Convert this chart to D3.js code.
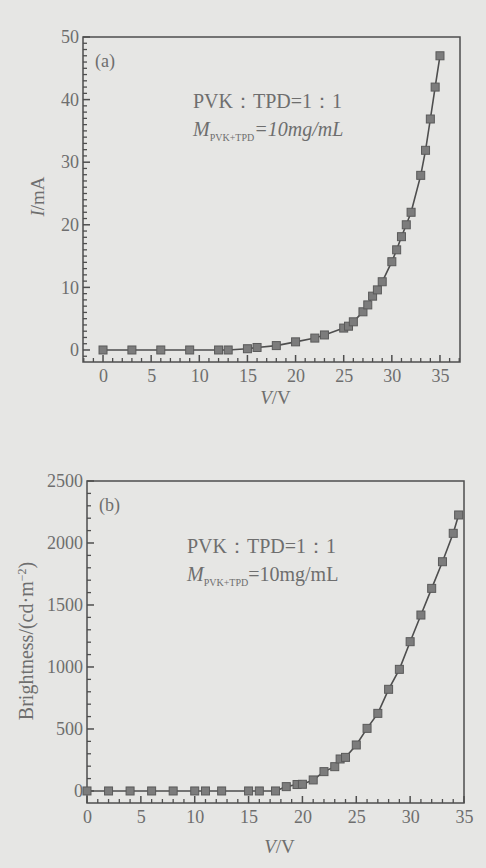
<!DOCTYPE html>
<html>
<head>
<meta charset="utf-8">
<script src="https://cdn.jsdelivr.net/npm/d3@7"></script>
<style>
  body { margin: 0; background: #e6e6e4; }
  svg { display: block; }
  text { font-family: "Liberation Serif", "DejaVu Serif", serif; fill: #6e6e6e; }
</style>
</head>
<body>
<div class="chart"></div>
<script>
// panel (a): current vs voltage
const voltA = [0, 3, 6, 9, 12, 13, 15, 16, 18, 20, 22, 23, 25, 25.5, 26, 27, 27.5, 28, 28.5, 29,
  30, 30.5, 31, 31.5, 32, 33, 33.5, 34, 34.5, 35];
const currentA = [0, 0, 0, 0, 0, 0, 0.2, 0.4, 0.7, 1.3, 1.9, 2.4, 3.5, 3.8, 4.5, 6.1, 7.2, 8.6, 9.6, 10.9,
  14.1, 16, 18.1, 20, 22, 27.9, 31.9, 36.9, 42, 47];
const yTicksA = [0, 10, 20, 30, 40, 50];

// panel (b): brightness vs voltage
const voltB = [0, 2, 4, 6, 8, 10, 11, 12.5, 15, 16, 17.5, 18.5, 19.5, 20, 21, 22, 23, 23.5, 24, 25,
  26, 27, 28, 29, 30, 31, 32, 33, 34, 34.5];
const brightB = [0, 0, 0, 0, 0, 0, 0, 0, 0, 0, 0, 35, 52, 54, 89, 156, 196, 258, 271, 371,
  505, 626, 820, 981, 1204, 1419, 1634, 1849, 2078, 2226];
const yTicksB = [0, 500, 1000, 1500, 2000, 2500];

const xTicks = [0, 5, 10, 15, 20, 25, 30, 35];

const width = 486, height = 868;
const ink = "#4e4e4e", markFill = "#7c7c7c";

const svg = d3.select(".chart").append("svg")
  .attr("width", width).attr("height", height);

function panel(opt) {
  const x = d3.scaleLinear().domain(opt.xDomain).range([opt.left, opt.right]);
  const y = d3.scaleLinear().domain(opt.yDomain).range([opt.bottom, opt.top]);
  const g = svg.append("g");

  // minor ticks, pointing inward
  const xMinor = d3.range(Math.ceil(opt.xDomain[0]), opt.xDomain[1] + 0.001, 1).filter(v => v % 5 !== 0);
  const yMinor = d3.range(Math.ceil(opt.yDomain[0] / opt.yMinorStep) * opt.yMinorStep, opt.yDomain[1] + 0.001, opt.yMinorStep)
    .filter(v => !opt.yTicks.includes(v));

  g.append("g").selectAll("line")
    .data(xMinor).join("line")
    .attr("x1", d => x(d)).attr("x2", d => x(d))
    .attr("y1", opt.bottom).attr("y2", opt.bottom - 4)
    .attr("stroke", ink).attr("stroke-width", 1.3);
  g.append("g").selectAll("line")
    .data(yMinor).join("line")
    .attr("y1", d => y(d)).attr("y2", d => y(d))
    .attr("x1", opt.left).attr("x2", opt.left + 4)
    .attr("stroke", ink).attr("stroke-width", 1.3);

  // major ticks
  g.append("g").selectAll("line")
    .data(xTicks).join("line")
    .attr("x1", d => x(d)).attr("x2", d => x(d))
    .attr("y1", opt.bottom).attr("y2", opt.bottom - 7)
    .attr("stroke", ink).attr("stroke-width", 1.5);
  g.append("g").selectAll("line")
    .data(opt.yTicks).join("line")
    .attr("y1", d => y(d)).attr("y2", d => y(d))
    .attr("x1", opt.left).attr("x2", opt.left + 7)
    .attr("stroke", ink).attr("stroke-width", 1.5);

  // tick labels via axes (lines hidden)
  g.append("g")
    .attr("transform", `translate(0,${opt.bottom})`)
    .call(d3.axisBottom(x).tickValues(xTicks).tickSize(0).tickPadding(7).tickFormat(d3.format("d")))
    .call(a => a.select(".domain").remove())
    .call(a => a.selectAll("line").remove())
    .call(a => a.selectAll("text").attr("font-size", 18).attr("fill", "#6e6e6e")
      .attr("font-family", "Liberation Serif, serif"));
  g.append("g")
    .attr("transform", `translate(${opt.left},0)`)
    .call(d3.axisLeft(y).tickValues(opt.yTicks).tickSize(0).tickPadding(4).tickFormat(d3.format("d")))
    .call(a => a.select(".domain").remove())
    .call(a => a.selectAll("line").remove())
    .call(a => a.selectAll("text").attr("font-size", 18).attr("fill", "#6e6e6e")
      .attr("font-family", "Liberation Serif, serif"));

  // frame
  g.append("rect")
    .attr("x", opt.left).attr("y", opt.top)
    .attr("width", opt.right - opt.left).attr("height", opt.bottom - opt.top)
    .attr("fill", "none").attr("stroke", ink).attr("stroke-width", 1.5);

  const pts = opt.xs.map((v, i) => [v, opt.ys[i]]);
  g.append("path")
    .datum(pts)
    .attr("fill", "none").attr("stroke", ink).attr("stroke-width", 1.6)
    .attr("d", d3.line().x(d => x(d[0])).y(d => y(d[1])));

  g.append("g").selectAll("rect")
    .data(pts)
    .join("rect")
    .attr("x", d => x(d[0]) - 4).attr("y", d => y(d[1]) - 4)
    .attr("width", 8).attr("height", 8)
    .attr("fill", markFill).attr("stroke", "#5a5a5a").attr("stroke-width", 1);

  // panel letter
  g.append("text").attr("x", opt.left + 12).attr("y", opt.top + 30)
    .attr("font-size", 18).text(opt.tag);

  // composition note
  g.append("text").attr("x", opt.noteX).attr("y", opt.noteY)
    .attr("font-size", 20).text("PVK：TPD=1：1");
  const m = g.append("text").attr("x", opt.noteX).attr("y", opt.noteY + 28).attr("font-size", 20);
  m.append("tspan").attr("font-style", "italic").text("M");
  m.append("tspan").attr("font-size", 10).attr("dy", 5).text("PVK+TPD");
  m.append("tspan").attr("dy", -5).attr("font-style", opt.italicUnit ? "italic" : "normal").text("=10mg/mL");

  // x label
  const xl = g.append("text").attr("x", (opt.left + opt.right) / 2 + 4).attr("y", opt.bottom + opt.xLabelDy)
    .attr("text-anchor", "middle").attr("font-size", 19);
  xl.append("tspan").attr("font-style", "italic").text("V");
  xl.append("tspan").text("/V");

  // y label
  const yl = g.append("text")
    .attr("transform", `translate(${opt.yLabelX},${(opt.top + opt.bottom) / 2 + opt.yLabelDy}) rotate(-90)`)
    .attr("text-anchor", "middle").attr("font-size", 19);
  opt.yLabel(yl);
}

panel({
  xs: voltA, ys: currentA, yTicks: yTicksA, yMinorStep: 1,
  xDomain: [-2.08, 37.08], yDomain: [-1.92, 50],
  left: 83, right: 460, top: 37, bottom: 362,
  tag: "(a)", noteX: 193, noteY: 108, italicUnit: true, xLabelDy: 42,
  yLabelX: 44, yLabelDy: -3,
  yLabel: t => { t.append("tspan").attr("font-style", "italic").text("I"); t.append("tspan").text("/mA"); }
});

panel({
  xs: voltB, ys: brightB, yTicks: yTicksB, yMinorStep: 100,
  xDomain: [0, 35], yDomain: [-97, 2500],
  left: 87, right: 464, top: 481, bottom: 803,
  tag: "(b)", noteX: 187, noteY: 553, italicUnit: false, xLabelDy: 50,
  yLabelX: 33, yLabelDy: -1,
  yLabel: t => {
    t.attr("font-size", 20);
    t.append("tspan").text("Brightness/(cd·m");
    t.append("tspan").attr("font-size", 12).attr("dy", -7).text("−2");
    t.append("tspan").attr("dy", 7).text(")");
  }
});
</script>
</body>
</html>
